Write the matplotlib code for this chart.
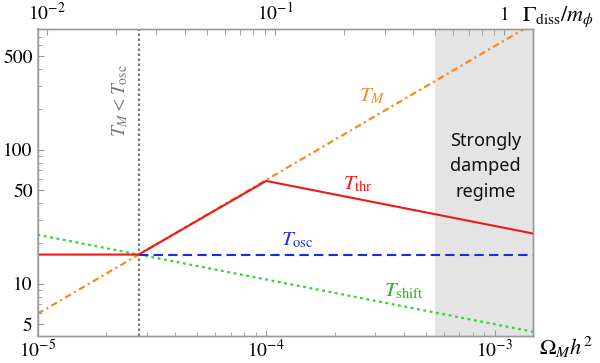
import numpy as np
import matplotlib
matplotlib.use('Agg')
import matplotlib.pyplot as plt

plt.rcParams['mathtext.fontset'] = 'stix'
plt.rcParams['font.family'] = ['STIXGeneral', 'DejaVu Serif']

# data (log-log straight segments)
omega_M = [1e-5, 1.5e-3]           # T_M endpoints
T_M = [5.95, 890.0]

omega_thr = [1e-5, 2.77e-5, 1e-4, 1.47e-3]
T_thr = [16.5, 16.5, 58.5, 23.7]

omega_osc = [2.77e-5, 1.47e-3]
T_osc = [16.5, 16.5]

omega_shift = [1e-5, 1.47e-3]
T_shift = [23.2, 4.38]

omega_cross = 2.77e-5              # T_M = T_osc
omega_damped = 5.5e-4              # start of strongly damped regime
gamma_factor = 910.0               # Gamma_diss/m_phi per Omega_M h^2

xlim = (1e-5, 1.47e-3)
ylim = (4.07, 793)
yticks = [5, 10, 50, 100, 500]
xticks = [1e-5, 1e-4, 1e-3]
top_ticks = [1e-2, 1e-1, 1]
top_labels = [r'$10^{-2}$', r'$10^{-1}$', r'$1$']

c_orange = '#f58a1f'
c_red = '#f01818'
c_blue = '#1a2be8'
c_green = '#2fd92f'
c_frame = '#999999'

fig = plt.figure(figsize=(6.0, 3.63), dpi=100)
ax = fig.add_axes([0.0625, 0.0744, 0.8258, 0.845])
ax.set_xscale('log')
ax.set_yscale('log')
ax.set_xlim(xlim)
ax.set_ylim(ylim)

ax.axvspan(omega_damped, xlim[1], color='#e4e4e4', lw=0, zorder=0)
ax.axvline(omega_cross, color='#777777', ls=(0, (1.2, 1.2)), lw=1.5, zorder=1)

ax.plot(omega_M, T_M, color=c_orange, lw=1.6, ls=(0, (3, 1.6, 1, 1.6)), zorder=2)
ax.plot(omega_shift, T_shift, color=c_green, lw=1.6, ls=(0, (1.3, 1.6)), zorder=2)
ax.plot(omega_osc, T_osc, color=c_blue, lw=1.5, ls=(0, (4.5, 2.5)), zorder=3)
ax.plot(omega_thr, T_thr, color=c_red, lw=1.5, zorder=4)

ax.text(2.91e-4, 250, r'$T_M$', color=c_orange, fontsize=15, ha='center', va='center')
ax.text(2.53e-4, 55.5, r'$T_{\rm thr}$', color=c_red, fontsize=15, ha='center', va='center')
ax.text(1.37e-4, 21.1, r'$T_{\rm osc}$', color=c_blue, fontsize=15, ha='center', va='center')
ax.text(4.02e-4, 8.75, r'$T_{\rm shift}$', color='#22b022', fontsize=15, ha='center', va='center')
ax.text(2.30e-5, 234, r'$T_M < T_{\rm osc}$', color='#777777', fontsize=14,
        rotation=90, ha='center', va='center')
ax.text(3.5e-4 * 2.6, 75, 'Strongly\ndamped\nregime', family='Noto Sans', fontsize=13,
        ha='center', va='center', linespacing=1.55, color='#111111')

ax.set_yticks(yticks)
ax.set_yticklabels([str(v) for v in yticks])
ax.set_xticks(xticks)
ax.set_xticklabels([r'$10^{-5}$', r'$10^{-4}$', r'$10^{-3}$'])
ax.tick_params(which='both', direction='in', colors=c_frame, labelcolor='black',
               labelsize=14, top=False, right=False)
ax.tick_params(which='major', length=4.5, width=0.8)
ax.tick_params(which='minor', length=3, width=0.6)
ax.tick_params(axis='x', pad=2)

# top axis in Gamma_diss / m_phi
ax2 = ax.twiny()
ax2.set_xscale('log')
ax2.set_xlim(xlim[0] * gamma_factor, xlim[1] * gamma_factor)
ax2.set_xticks(top_ticks)
ax2.set_xticklabels(top_labels)
ax2.tick_params(which='both', direction='in', colors=c_frame, labelcolor='black',
                labelsize=14, pad=4)
ax2.tick_params(which='major', length=4, width=0.8)
ax2.tick_params(which='minor', length=4, width=0.6)

for a in (ax, ax2):
    for s in a.spines.values():
        s.set_color(c_frame)
        s.set_linewidth(1.0)
ax.spines['left'].set_color('#bbbbbb')
ax.spines['left'].set_linewidth(1.4)

fig.text(0.943, 0.044, r'$\Omega_M h^2$', fontsize=16, ha='center', va='center')
fig.text(0.93, 0.953, r'$\Gamma_{\rm diss}/m_\phi$', fontsize=16, ha='center', va='center')

fig.savefig('out.png', dpi=100)
